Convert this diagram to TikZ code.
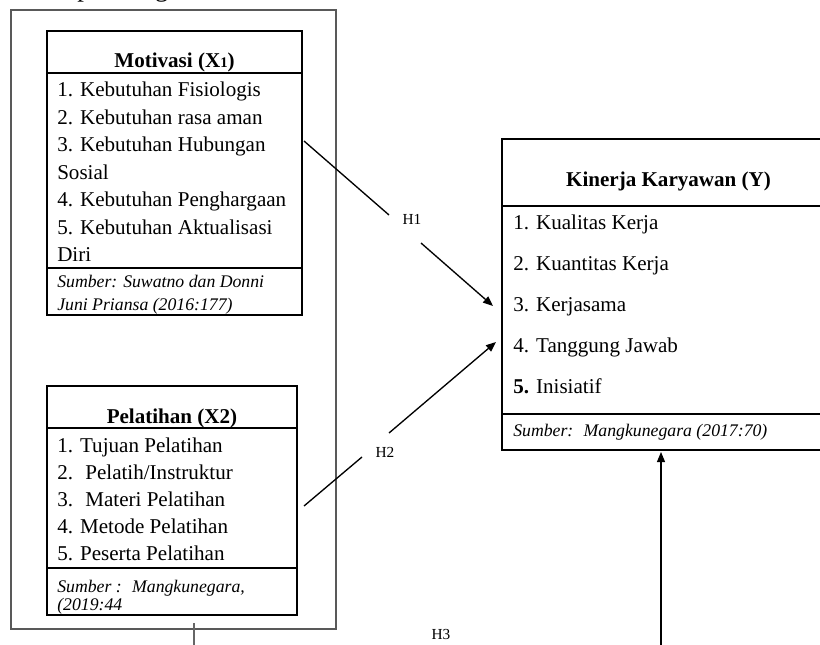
\documentclass[tikz,border=0pt]{standalone}
\usepackage{fontspec}
\setmainfont{Liberation Serif}
\usetikzlibrary{positioning,calc,arrows.meta,fit}

\begin{document}
\begin{tikzpicture}[
    x=0.75pt, y=-0.75pt,
    every node/.style={inner sep=0pt},
    frame/.style={draw=black!65, line width=1.4pt},
    varbox/.style={draw=black, line width=1.5pt, inner sep=0pt},
    divider/.style={black, line width=1.3pt},
    item/.style={anchor=base west, font=\fontsize{15.8}{19}\selectfont},
    head/.style={anchor=base, font=\fontsize{15.8}{19}\selectfont\bfseries},
    source/.style={anchor=base west, font=\fontsize{13.3}{16}\selectfont\itshape},
    hlabel/.style={font=\fontsize{11.5}{13}\selectfont},
    link/.style={black, line width=1pt},
    arrow/.style={link, -{Triangle[length=7.5pt, width=6pt]}},
]
\useasboundingbox (0,0) rectangle (820,645);
\clip (0,0) rectangle (820,645);

% running text cut at the top of the page
\node[anchor=base east, font=\fontsize{20}{24}\selectfont] (lead) at (253,-3) {t tercapai dengan baik.};

% =====================================================================
% Independent variables in one frame
% =====================================================================
\node[frame, fit={(11,10) (336,629)}] (panel) {};

% Motivasi (X1)
\node[varbox, fit={(47,31) (302,315)}] (mot) {};
\draw[divider] (47,73) -- (302,73);
\draw[divider] (47,268) -- (302,268);
\node[head] (mothead) at (174.5,68) {Motivasi (X{\fontsize{11}{13}\selectfont 1})};
\foreach \t [count=\i] in {1. Kebutuhan Fisiologis, 2. Kebutuhan rasa aman,
    3. Kebutuhan Hubungan, Sosial, 4. Kebutuhan Penghargaan,
    5. Kebutuhan Aktualisasi, Diri} {
    \node[item] (mot\i) at (57,{97+27.5*(\i-1)}) {\t};
}
\node[source] (motsrc1) at (57,287) {Sumber: Suwatno dan Donni};
\node[source] (motsrc2) at (57,310) {Juni Priansa (2016:177)};

% Pelatihan (X2)
\node[varbox, fit={(47,386) (297,615)}] (pel) {};
\draw[divider] (47,428) -- (297,428);
\draw[divider] (47,568) -- (297,568);
\node[head] (pelhead) at (172,423) {Pelatihan (X2)};
\foreach \t [count=\i] in {1. Tujuan Pelatihan, 2.~ Pelatih/Instruktur,
    3.~ Materi Pelatihan, 4. Metode Pelatihan, 5. Peserta Pelatihan} {
    \node[item] (pel\i) at (57,{452+27.2*(\i-1)}) {\t};
}
\node[source] (pelsrc1) at (57,592) {Sumber :~ Mangkunegara,};
\node[source] (pelsrc2) at (57,610) {(2019:44};

% =====================================================================
% Dependent variable
% =====================================================================
\node[varbox, fit={(502,139) (835,450)}] (kin) {};
\draw[divider] (502,206) -- (835,206);
\draw[divider] (502,414) -- (835,414);
\node[head] (kinhead) at (668.5,187) {Kinerja Karyawan (Y)};
\foreach \t [count=\i] in {1. Kualitas Kerja, 2. Kuantitas Kerja, 3. Kerjasama,
    4. Tanggung Jawab, {\textbf{5.} Inisiatif}} {
    \node[item] (kin\i) at (513,{229+41.2*(\i-1)}) {\t};
}
\node[source] (kinsrc) at (513,436) {Sumber:~ Mangkunegara (2017:70)};

% =====================================================================
% Hypotheses
% =====================================================================
\coordinate (h1s) at (304,141);
\coordinate (h1m) at (389,215);
\coordinate (h1n) at (421,243);
\coordinate (h1e) at (493,306);
\node[hlabel] (h1) at (412,219) {H1};
\draw[link] (h1s) -- (h1m);
\draw[arrow] (h1n) -- (h1e);

\coordinate (h2s) at (304,506);
\coordinate (h2m) at (362,457);
\coordinate (h2n) at (389,433);
\coordinate (h2e) at (496,342);
\node[hlabel] (h2) at (385,452) {H2};
\draw[link] (h2s) -- (h2m);
\draw[arrow] (h2n) -- (h2e);

\node[hlabel] (h3) at (441,634) {H3};
\coordinate (h3s) at (194,623);
\coordinate (h3b) at (194,646);
\coordinate (h3c) at (661,646);
\coordinate (h3e) at (661,452);
\draw[black!60, line width=0.8pt] (h3s) -- (h3b);
\draw[arrow, line width=0.8pt] (h3c) -- (h3e);

\end{tikzpicture}
\end{document}
